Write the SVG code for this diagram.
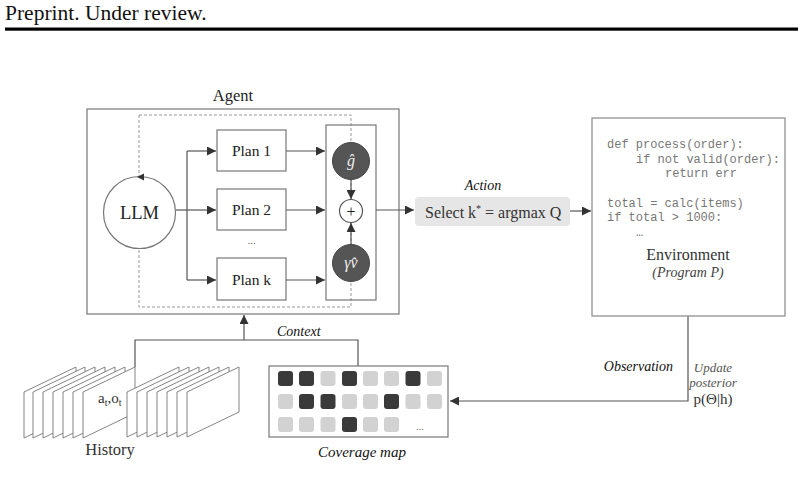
<svg xmlns="http://www.w3.org/2000/svg" width="804" height="486" viewBox="0 0 804 486">
<defs>
<style>
.serif{font-family:"Liberation Serif","DejaVu Serif",serif;}
.mono{font-family:"Liberation Mono","DejaVu Sans Mono",monospace;font-size:12px;fill:#777;}
.box{fill:#fff;stroke:#777;stroke-width:1.2;}
.line{fill:none;stroke:#555;stroke-width:1.2;}
.arr{fill:none;stroke:#555;stroke-width:1.2;marker-end:url(#ah);}
.dash{fill:none;stroke:#999;stroke-width:1;stroke-dasharray:3 2;}
.card{fill:#fff;stroke:#777;stroke-width:0.9;}
.dk{fill:#3a3a3a;}
.lt{fill:#d2d2d2;}
</style>
<marker id="ah" viewBox="0 0 10 10" refX="10" refY="5" markerWidth="9" markerHeight="9" markerUnits="userSpaceOnUse" orient="auto">
<path d="M0,0 L10,5 L0,10 z" fill="#333"/>
</marker>
</defs>
<rect width="804" height="486" fill="#fff"/>

<g id="header">
<text class="serif" x="5" y="20" font-size="21.5" fill="#111">Preprint. Under review.</text>
<rect x="5" y="27.5" width="793" height="3.2" fill="#000"/>
</g>

<g id="agent">
<text class="serif" x="233" y="101" font-size="16.5" text-anchor="middle" fill="#222">Agent</text>
<rect class="box" x="87" y="109" width="312" height="205"/>
<rect class="dash" x="139" y="115" width="212" height="192"/>
</g>

<g id="llm">
<circle cx="139.5" cy="212.5" r="36" fill="#fff" stroke="#777" stroke-width="1.2"/>
<path d="M137,177 L144,173.5 L144,180.5 z" fill="#333"/>
<text class="serif" x="139.5" y="219" font-size="18.5" text-anchor="middle" fill="#222">LLM</text>
</g>

<g id="plan1">
<rect class="box" x="217" y="130" width="69" height="41"/>
<text class="serif" x="251.5" y="156" font-size="15.5" text-anchor="middle" fill="#222">Plan 1</text>
</g>
<g id="plan2">
<rect class="box" x="217" y="189" width="69" height="41"/>
<text class="serif" x="251.5" y="215" font-size="15.5" text-anchor="middle" fill="#222">Plan 2</text>
</g>
<g id="plan-dots">
<text class="serif" x="251.5" y="244" font-size="11" text-anchor="middle" fill="#666">...</text>
</g>
<g id="plank">
<rect class="box" x="217" y="258" width="69" height="42"/>
<text class="serif" x="251.5" y="285" font-size="15.5" text-anchor="middle" fill="#222">Plan k</text>
</g>

<g id="aggregator">
<rect x="326" y="125" width="50" height="175" fill="none" stroke="#777" stroke-width="1.2"/>
</g>

<g id="connectors">
<line class="line" x1="176" y1="210" x2="187" y2="210"/>
<line class="line" x1="187" y1="151" x2="187" y2="280"/>
<line class="arr" x1="187" y1="151" x2="216" y2="151"/>
<line class="arr" x1="187" y1="210" x2="216" y2="210"/>
<line class="arr" x1="187" y1="280" x2="216" y2="280"/>
<line class="arr" x1="286" y1="151" x2="325" y2="151"/>
<line class="arr" x1="286" y1="210" x2="325" y2="210"/>
<line class="arr" x1="286" y1="280" x2="325" y2="280"/>
<line class="arr" x1="351" y1="180" x2="351" y2="199"/>
<line class="arr" x1="351" y1="244" x2="351" y2="223"/>
<line class="arr" x1="376" y1="210" x2="414" y2="210"/>
<line class="arr" x1="570" y1="211" x2="591" y2="211"/>
<polyline class="arr" points="688,316 688,401 450,401"/>
<polyline class="line" points="358,366 358,340 135,340 135,367"/>
<line class="arr" x1="244" y1="340" x2="244" y2="315"/>
</g>

<g id="g-hat">
<circle cx="351" cy="161" r="18.5" fill="#555" stroke="#444" stroke-width="1"/>
<text class="serif" x="351" y="166" font-size="16" font-style="italic" text-anchor="middle" fill="#eee">ĝ</text>
</g>
<g id="plus">
<circle cx="351" cy="211" r="11.5" fill="#fff" stroke="#555" stroke-width="1.2"/>
<text class="serif" x="351" y="216.5" font-size="16" text-anchor="middle" fill="#222">+</text>
</g>
<g id="gamma-v">
<circle cx="351" cy="263" r="18.5" fill="#555" stroke="#444" stroke-width="1"/>
<text class="serif" x="351" y="268" font-size="16" font-style="italic" text-anchor="middle" fill="#eee">γv̂</text>
</g>

<g id="action">
<text class="serif" x="483" y="190" font-size="14" font-style="italic" text-anchor="middle" fill="#111">Action</text>
<rect x="415" y="197" width="155" height="29" rx="4" fill="#e6e6e6"/>
<text class="serif" x="425" y="218" font-size="16" fill="#333">Select k<tspan dy="-6" font-size="10">*</tspan><tspan dy="6"> = argmax Q</tspan></text>
</g>

<g id="environment">
<rect x="592" y="118" width="193" height="198" fill="#fff" stroke="#888" stroke-width="1.2"/>
<text class="mono" x="607" y="148">def process(order):</text>
<text class="mono" x="636" y="163">if not valid(order):</text>
<text class="mono" x="665" y="177">return err</text>
<text class="mono" x="607" y="207">total = calc(items)</text>
<text class="mono" x="607" y="221">if total &gt; 1000:</text>
<text class="mono" x="636" y="236" font-size="9">…</text>
<text class="serif" x="688" y="260" font-size="16" text-anchor="middle" fill="#333">Environment</text>
<text class="serif" x="688" y="277" font-size="14" font-style="italic" text-anchor="middle" fill="#444">(Program P)</text>
</g>

<g id="observation">
<text class="serif" x="673" y="371" font-size="14" font-style="italic" text-anchor="end" fill="#111">Observation</text>
<text class="serif" x="713" y="372" font-size="13" font-style="italic" text-anchor="middle" fill="#555">Update</text>
<text class="serif" x="713" y="387" font-size="13" font-style="italic" text-anchor="middle" fill="#555">posterior</text>
<text class="serif" x="713" y="404" font-size="15" text-anchor="middle" fill="#333">p(Θ|h)</text>
</g>

<g id="context-label">
<text class="serif" x="277" y="336" font-size="14" font-style="italic" fill="#111">Context</text>
</g>

<g id="history">
<polygon class="card" points="24,392 76,367 76,413 24,438"/>
<polygon class="card" points="33,392 85,367 85,413 33,438"/>
<polygon class="card" points="43,392 95,367 95,413 43,438"/>
<polygon class="card" points="53,392 105,367 105,413 53,438"/>
<polygon class="card" points="63,392 115,367 115,413 63,438"/>
<polygon class="card" points="73,392 125,367 125,413 73,438"/>
<polygon class="card" points="83,392 135,367 135,413 83,438"/>
<text class="serif" x="98" y="403" font-size="15" fill="#333">a<tspan dy="3" font-size="10">t</tspan><tspan dy="-3">,o</tspan><tspan dy="3" font-size="10">t</tspan></text>
<polygon class="card" points="127,392 179,367 179,412 127,437"/>
<polygon class="card" points="137,392 189,367 189,412 137,437"/>
<polygon class="card" points="147,392 199,367 199,412 147,437"/>
<polygon class="card" points="157,392 209,367 209,412 157,437"/>
<polygon class="card" points="167,392 219,367 219,412 167,437"/>
<polygon class="card" points="177,392 229,367 229,412 177,437"/>
<polygon class="card" points="187,392 239,367 239,412 187,437"/>
<text class="serif" x="110" y="455" font-size="16.5" text-anchor="middle" fill="#333">History</text>
</g>

<g id="coverage-map">
<rect x="269" y="366" width="179" height="71" fill="#fff" stroke="#777" stroke-width="1.2"/>
<rect class="dk" x="278" y="371" width="15" height="15" rx="3"/>
<rect class="dk" x="299" y="371" width="15" height="15" rx="3"/>
<rect class="lt" x="320.5" y="371" width="15" height="15" rx="3"/>
<rect class="dk" x="342" y="371" width="15" height="15" rx="3"/>
<rect class="lt" x="363" y="371" width="15" height="15" rx="3"/>
<rect class="lt" x="384" y="371" width="15" height="15" rx="3"/>
<rect class="dk" x="405.5" y="371" width="15" height="15" rx="3"/>
<rect class="lt" x="427" y="371" width="15" height="15" rx="3"/>
<rect class="lt" x="278" y="394" width="15" height="15" rx="3"/>
<rect class="dk" x="299" y="394" width="15" height="15" rx="3"/>
<rect class="dk" x="320.5" y="394" width="15" height="15" rx="3"/>
<rect class="lt" x="342" y="394" width="15" height="15" rx="3"/>
<rect class="lt" x="363" y="394" width="15" height="15" rx="3"/>
<rect class="dk" x="384" y="394" width="15" height="15" rx="3"/>
<rect class="lt" x="405.5" y="394" width="15" height="15" rx="3"/>
<rect class="lt" x="427" y="394" width="15" height="15" rx="3"/>
<rect class="lt" x="278" y="417" width="15" height="15" rx="3"/>
<rect class="lt" x="299" y="417" width="15" height="15" rx="3"/>
<rect class="lt" x="320.5" y="417" width="15" height="15" rx="3"/>
<rect class="dk" x="342" y="417" width="15" height="15" rx="3"/>
<rect class="lt" x="363" y="417" width="15" height="15" rx="3"/>
<rect class="lt" x="384" y="417" width="15" height="15" rx="3"/>
<text class="serif" x="420" y="430" font-size="10" text-anchor="middle" fill="#666">...</text>
<text class="serif" x="362" y="457" font-size="15" font-style="italic" text-anchor="middle" fill="#111">Coverage map</text>
</g>
</svg>
